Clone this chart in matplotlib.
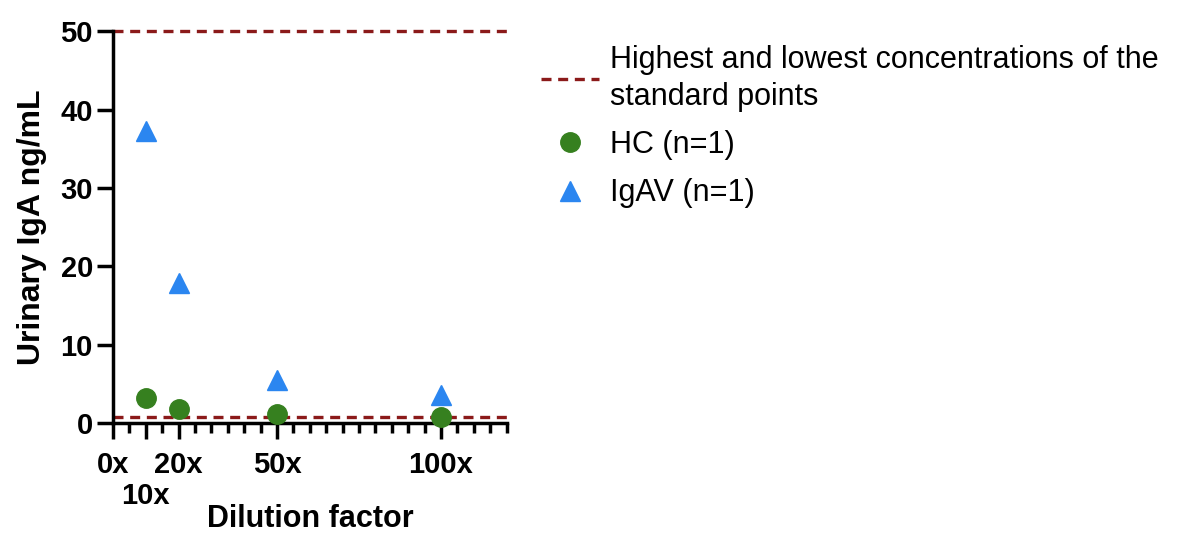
import matplotlib.pyplot as plt
from matplotlib.lines import Line2D

plt.rcParams['font.family'] = ['Liberation Sans', 'DejaVu Sans']

# data
dilution = [10, 20, 50, 100]
hc_values = [3.2, 1.8, 1.15, 0.8]
igav_values = [37.2, 17.9, 5.5, 3.6]
std_high = 50
std_low = 0.78
x_ticks = [0, 10, 20, 50, 100]
x_labels = ["0x", "10x", "20x", "50x", "100x"]
y_ticks = [0, 10, 20, 30, 40, 50]

green = '#36801f'
blue = '#2b86f0'
red = '#8b1a1a'

fig = plt.figure(figsize=(11.78, 5.38), dpi=100)
ax = fig.add_axes([0.096, 0.214, 0.334, 0.728])

ax.axhline(std_high, color=red, ls=(0, (3, 2)), lw=2.4, zorder=1, clip_on=False)
ax.axhline(std_low, color=red, ls=(0, (3, 2)), lw=2.4, zorder=1)
ax.plot(dilution, hc_values, 'o', color=green, ms=14, ls='none', zorder=3, clip_on=False)
ax.plot(dilution, igav_values, '^', color=blue, ms=14, ls='none', zorder=3, clip_on=False)

ax.set_xlim(0, 120)
ax.set_ylim(0, 50)
ax.set_xticks(x_ticks)
ax.set_xticklabels(x_labels, fontsize=21, fontweight='bold')
ax.set_xticks(range(0, 121, 5), minor=True)
ax.set_yticks(y_ticks)
ax.set_yticklabels([str(v) for v in y_ticks], fontsize=21, fontweight='bold')

for side in ['top', 'right']:
    ax.spines[side].set_visible(False)
for side in ['left', 'bottom']:
    ax.spines[side].set_linewidth(2.5)

ax.tick_params(axis='y', which='major', width=2.5, length=11.5, pad=3)
ax.tick_params(axis='x', which='major', width=2.5, length=11.5, pad=9)
ax.tick_params(axis='x', which='minor', width=2.5, length=7)
# 10x tick is longer and its label sits a row lower
tick10 = ax.xaxis.get_major_ticks()[1]
tick10.tick1line.set_markersize(21)
tick10.set_pad(31)

ax.set_ylabel("Urinary IgA ng/mL", fontsize=23, fontweight='bold', labelpad=10)
ax.set_xlabel("Dilution factor", fontsize=22, fontweight='bold', labelpad=-4)

handles = [
    Line2D([], [], color=red, ls=(0, (3, 2)), lw=2.4),
    Line2D([], [], marker='o', color=green, ms=14, ls='none'),
    Line2D([], [], marker='^', color=blue, ms=14, ls='none'),
]
labels = ["Highest and lowest concentrations of the\nstandard points", "HC (n=1)", "IgAV (n=1)"]
leg = fig.legend(handles, labels, loc='upper left', bbox_to_anchor=(0.436, 0.968),
                 frameon=False, fontsize=22, handlelength=1.9, handletextpad=0.35,
                 labelspacing=0.6)
leg.get_texts()[0].set_linespacing(1.3)

fig.savefig('out.png', dpi=100)
